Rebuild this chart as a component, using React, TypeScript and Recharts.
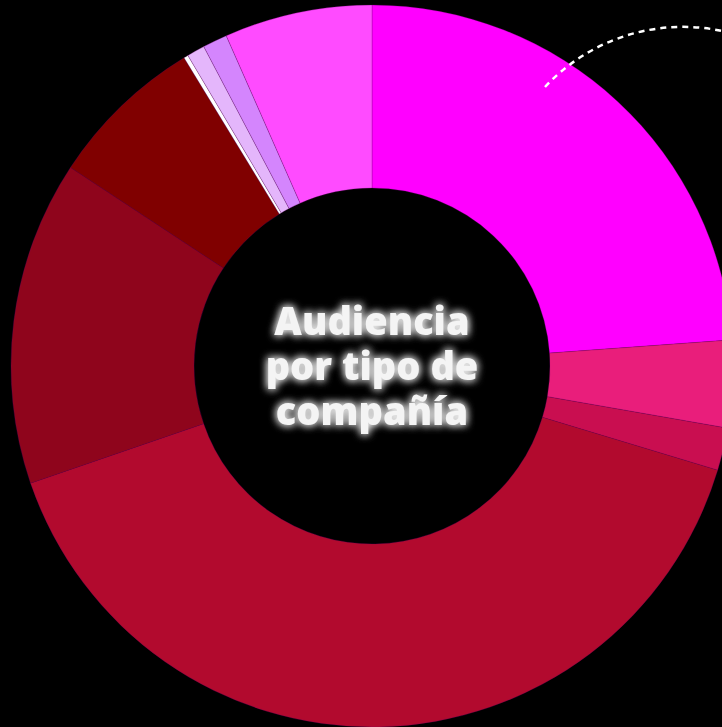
import { PieChart, Pie, Cell } from "recharts";

// audience share per company type, % (clockwise from 12 o'clock)
const segments = [
  "Seg 1", "Seg 2", "Seg 3", "Seg 4", "Seg 5",
  "Seg 6", "Seg 7", "Seg 8", "Seg 9", "Seg 10",
];
const shares = [23.8, 3.9, 1.9, 40.0, 14.5, 7.0, 0.2, 0.8, 1.1, 6.6];
const colors = [
  "#FF00FF", "#E91E7B", "#C90E50", "#B20A2E", "#8F051C",
  "#800000", "#FFFFFF", "#E4B6FB", "#D485FD", "#FF4BFF",
];
const titleLines = ["Audiencia", "por tipo de", "compañía"];

const W = 722;
const H = 727;
const CX = 372;
const CY = 366;

if (typeof document !== "undefined") {
  document.body.style.margin = "0";
  document.body.style.background = "#000";
}

const data = segments.map((name, i) => ({ name, value: shares[i] }));

export default function App() {
  return (
    <div style={{ position: "relative", width: W, height: H, background: "#000", overflow: "hidden" }}>
      <PieChart width={W} height={H} margin={{ top: 0, right: 0, bottom: 0, left: 0 }}>
        <Pie
          data={data}
          dataKey="value"
          nameKey="name"
          cx={CX}
          cy={CY}
          innerRadius={178}
          outerRadius={361}
          startAngle={90}
          endAngle={-270}
          stroke="rgba(110,0,110,0.45)"
          strokeWidth={0.6}
          isAnimationActive={false}
        >
          {data.map((d, i) => (
            <Cell key={d.name} fill={colors[i]} />
          ))}
        </Pie>
      </PieChart>

      {/* overlay: title in the hole + dashed leader arc */}
      <svg width={W} height={H} style={{ position: "absolute", left: 0, top: 0, pointerEvents: "none" }}>
        <defs>
          <filter id="glow" x="-30%" y="-30%" width="160%" height="160%">
            <feGaussianBlur in="SourceAlpha" stdDeviation="4" result="blur" />
            <feFlood floodColor="#ffffff" floodOpacity="0.85" />
            <feComposite in2="blur" operator="in" result="halo" />
            <feMerge>
              <feMergeNode in="halo" />
              <feMergeNode in="halo" />
              <feMergeNode in="SourceGraphic" />
            </feMerge>
          </filter>
        </defs>
        <path
          d="M 545 87 A 188 188 0 0 1 722 31"
          fill="none"
          stroke="#ffffff"
          strokeWidth={2.5}
          strokeDasharray="6 5"
        />
        {titleLines.map((line, i) => (
          <text
            key={line}
            x={CX}
            y={335 + i * 45}
            textAnchor="middle"
            fill="#f4f4f4"
            fontFamily="'Open Sans', sans-serif"
            fontWeight={800}
            fontSize={38}
            filter="url(#glow)"
          >
            {line}
          </text>
        ))}
      </svg>
    </div>
  );
}
